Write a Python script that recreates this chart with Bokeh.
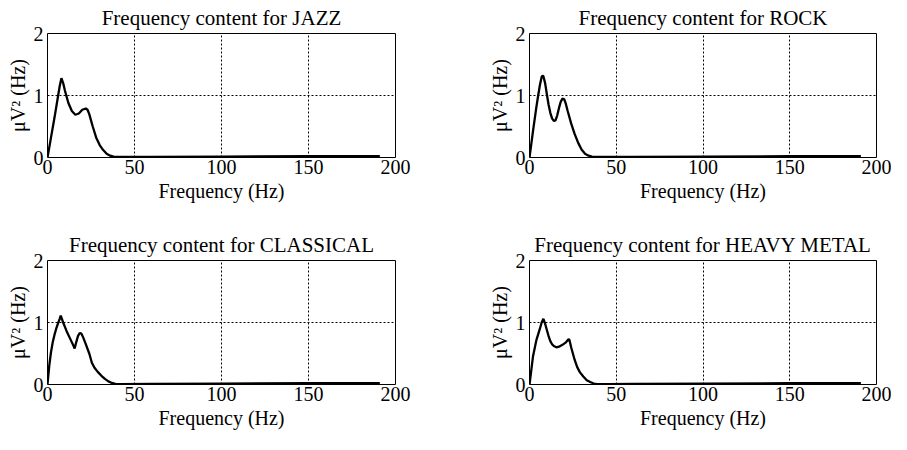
from bokeh.plotting import figure
from bokeh.layouts import column, row
from bokeh.models import Range1d, FixedTicker
from bokeh.embed import file_html
from bokeh.resources import INLINE

x_ticks = [0, 50, 100, 150, 200]
y_ticks = [0, 1, 2]

freq_jazz = [0, 2, 4, 6, 7, 8, 9, 10, 12, 14, 16, 18, 20, 22, 23, 24, 26, 28, 30, 32, 34, 36, 38, 40, 45, 60, 100, 150, 191]
power_jazz = [0, 0.32, 0.64, 0.98, 1.15, 1.28, 1.2, 1.08, 0.88, 0.75, 0.69, 0.71, 0.77, 0.79, 0.77, 0.7, 0.5, 0.32, 0.2, 0.12, 0.06, 0.03, 0.015, 0.01, 0.01, 0.01, 0.015, 0.02, 0.02]

freq_rock = [0, 2, 4, 5, 6, 7, 7.5, 8, 9, 10, 11, 12, 13, 14, 15, 16, 17, 18, 19, 20, 21, 22, 24, 26, 28, 30, 32, 34, 36, 40, 60, 100, 150, 191]
power_rock = [0, 0.42, 0.82, 1.0, 1.17, 1.3, 1.32, 1.31, 1.2, 1.02, 0.85, 0.72, 0.63, 0.59, 0.6, 0.68, 0.8, 0.9, 0.95, 0.94, 0.86, 0.75, 0.55, 0.38, 0.24, 0.13, 0.06, 0.03, 0.015, 0.01, 0.01, 0.015, 0.02, 0.02]

freq_classical = [0, 1, 2, 3, 4, 5, 6, 7, 7.6, 9, 11, 13, 15, 15.6, 16.5, 17.5, 18.5, 19.5, 20.5, 22, 24, 25.5, 27, 29, 31, 33, 35, 37, 39, 42, 60, 100, 150, 191]
power_classical = [0, 0.3, 0.52, 0.68, 0.8, 0.9, 0.98, 1.06, 1.11, 1.0, 0.86, 0.74, 0.62, 0.58, 0.68, 0.78, 0.83, 0.82, 0.76, 0.65, 0.5, 0.35, 0.27, 0.2, 0.14, 0.09, 0.05, 0.025, 0.01, 0.005, 0.01, 0.015, 0.02, 0.02]

freq_metal = [0, 2, 4, 6, 7, 8, 9, 10, 11, 12, 13, 14, 15.5, 17, 19, 21, 22.5, 23, 24, 25, 26, 27.5, 29, 31, 33, 35, 37, 39, 45, 60, 100, 150, 191]
power_metal = [0, 0.45, 0.72, 0.9, 1.0, 1.06, 0.98, 0.88, 0.78, 0.7, 0.65, 0.62, 0.6, 0.61, 0.64, 0.68, 0.73, 0.72, 0.6, 0.5, 0.4, 0.28, 0.2, 0.13, 0.07, 0.04, 0.015, 0.005, 0.005, 0.01, 0.015, 0.02, 0.02]

FONT = "Liberation Serif"


def panel(title, xs, ys, width, height, left, right, top, bottom):
    p = figure(width=width, height=height, output_backend="svg", toolbar_location=None,
               x_range=Range1d(0, 200), y_range=Range1d(0, 2),
               min_border_left=left, min_border_right=right,
               min_border_top=top, min_border_bottom=bottom,
               title=title)
    p.title.text_font = FONT
    p.title.text_font_style = "normal"
    p.title.text_font_size = "21px"
    p.title.align = "center"
    p.title.text_color = "black"
    p.title.standoff = 7
    p.line(xs, ys, line_color="black", line_width=2.3)
    p.outline_line_color = "black"
    p.outline_line_width = 1
    p.outline_line_alpha = 1
    p.background_fill_color = "white"
    p.border_fill_color = "white"
    for ax in (p.xaxis[0], p.yaxis[0]):
        ax.axis_line_color = None
        ax.major_tick_line_color = None
        ax.minor_tick_line_color = None
        ax.major_tick_out = 0
        ax.major_tick_in = 0
        ax.minor_tick_out = 0
        ax.minor_tick_in = 0
        ax.major_label_text_font = FONT
        ax.major_label_text_font_size = "20px"
        ax.major_label_text_color = "black"
        ax.axis_label_text_font = FONT
        ax.axis_label_text_font_size = "20px"
        ax.axis_label_text_font_style = "normal"
        ax.axis_label_text_color = "black"
        ax.major_label_standoff = 2
        ax.axis_label_standoff = 3
    p.yaxis[0].major_label_standoff = 4
    p.yaxis[0].axis_label_standoff = 2
    p.xaxis[0].ticker = FixedTicker(ticks=x_ticks)
    p.yaxis[0].ticker = FixedTicker(ticks=y_ticks)
    p.xaxis[0].axis_label = "Frequency (Hz)"
    p.yaxis[0].axis_label = "μV² (Hz)"
    p.xgrid[0].ticker = FixedTicker(ticks=[50, 100, 150])
    p.ygrid[0].ticker = FixedTicker(ticks=[1])
    for g in (p.xgrid[0], p.ygrid[0]):
        g.grid_line_color = "black"
        g.grid_line_dash = "2 2"
        g.grid_line_width = 1
        g.grid_line_alpha = 1
    return p


# left column: 47 + 348 + 90 = 485 ; right column: 43 + 348 + 15 = 406
p1 = panel("Frequency content for JAZZ", freq_jazz, power_jazz, 485, 227, 47, 90, 32, 70)
p2 = panel("Frequency content for ROCK", freq_rock, power_rock, 406, 227, 43, 15, 32, 70)
p3 = panel("Frequency content for CLASSICAL", freq_classical, power_classical, 485, 207, 47, 90, 32, 50)
p4 = panel("Frequency content for HEAVY METAL", freq_metal, power_metal, 406, 207, 43, 15, 32, 50)

layout = column(row(p1, p2), row(p3, p4))
open("out.html", "w").write(file_html(layout, INLINE))
